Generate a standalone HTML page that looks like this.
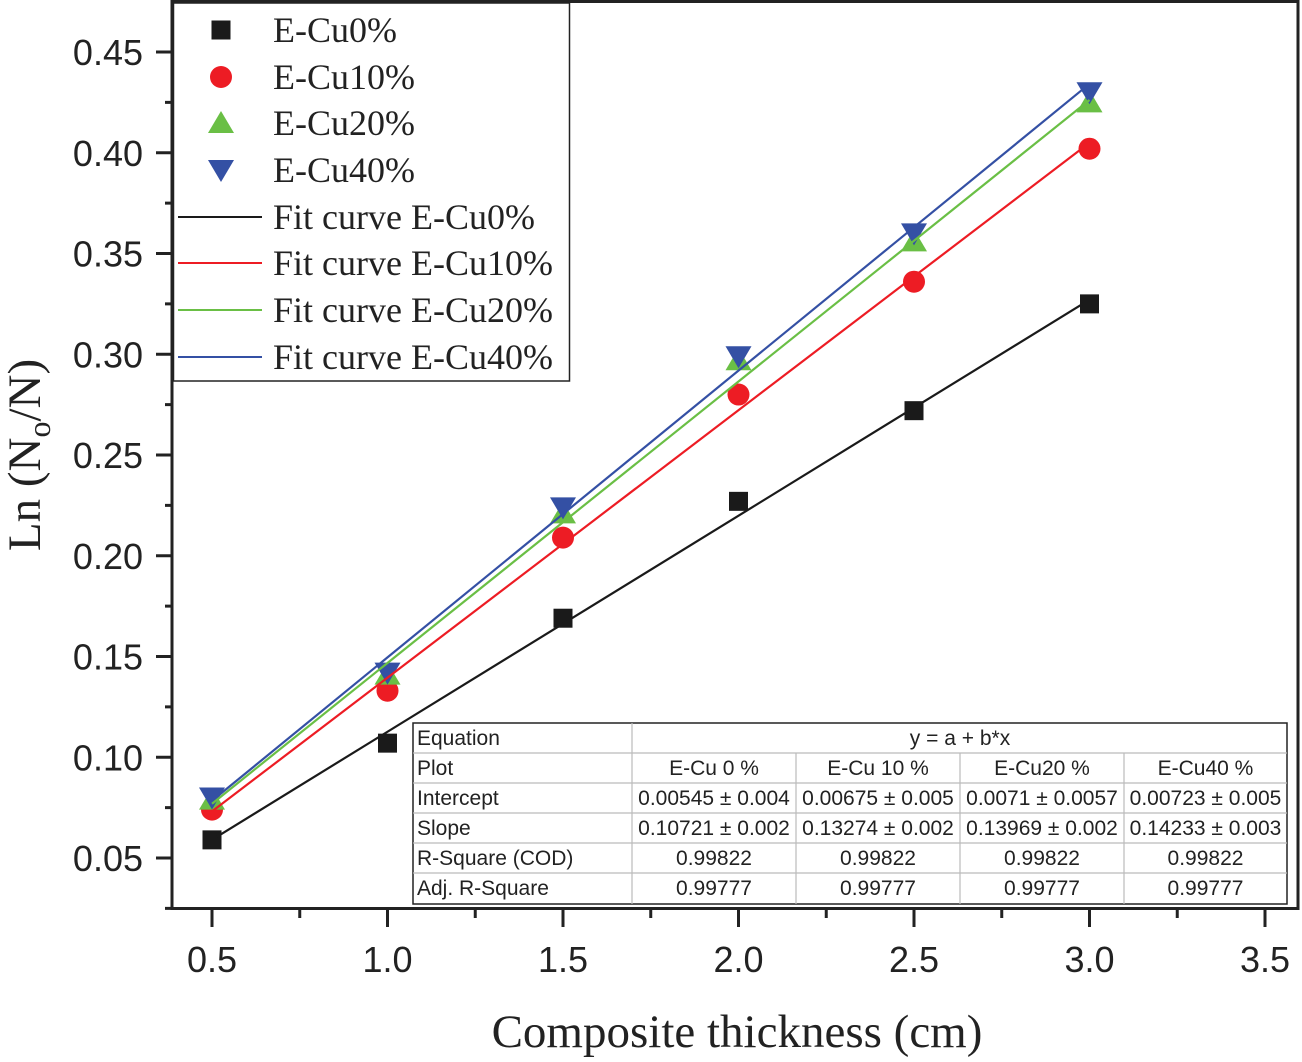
<!DOCTYPE html>
<html><head><meta charset="utf-8"><style>
html,body{margin:0;padding:0;background:#fff;}
svg{display:block;}
.sans{font-family:"Liberation Sans",sans-serif;}
.serif{font-family:"Liberation Serif",serif;}
</style></head><body>
<svg id="chart" width="1302" height="1062" viewBox="0 0 1302 1062" xmlns="http://www.w3.org/2000/svg">
<g id="axes"></g>
<g id="series"></g>
<g id="legend"></g>
<g id="table"></g>
</svg>
<script>
const xVals = [0.5, 1.0, 1.5, 2.0, 2.5, 3.0];
const cu0 = [0.059, 0.107, 0.169, 0.227, 0.272, 0.325];
const cu10 = [0.074, 0.133, 0.209, 0.280, 0.336, 0.402];
const cu20 = [0.079, 0.141, 0.221, 0.297, 0.356, 0.425];
const cu40 = [0.080, 0.142, 0.224, 0.299, 0.360, 0.430];
const intercepts = [0.00545, 0.00675, 0.0071, 0.00723];
const slopes = [0.10721, 0.13274, 0.13969, 0.14233];
const xTicks = [0.5, 1.0, 1.5, 2.0, 2.5, 3.0, 3.5];
const yTicks = [0.05, 0.10, 0.15, 0.20, 0.25, 0.30, 0.35, 0.40, 0.45];
const seriesNames = ["E-Cu0%", "E-Cu10%", "E-Cu20%", "E-Cu40%"];
const tablePlots = ["E-Cu 0 %", "E-Cu 10 %", "E-Cu20 %", "E-Cu40 %"];
const tableIntercept = ["0.00545 ± 0.004", "0.00675 ± 0.005", "0.0071 ± 0.0057", "0.00723 ± 0.005"];
const tableSlope = ["0.10721 ± 0.002", "0.13274 ± 0.002", "0.13969 ± 0.002", "0.14233 ± 0.003"];
const tableR2 = ["0.99822", "0.99822", "0.99822", "0.99822"];
const tableAdjR2 = ["0.99777", "0.99777", "0.99777", "0.99777"];

const NS = "http://www.w3.org/2000/svg";
const X = v => 212 + (v - 0.5) * 351;
const Y = v => 52 + (0.45 - v) * 2015;
function mk(tag, attrs, parent, text) {
  const e = document.createElementNS(NS, tag);
  for (const k in attrs) e.setAttribute(k, attrs[k]);
  if (text !== undefined) e.textContent = text;
  parent.appendChild(e);
  return e;
}
const axes = document.getElementById('axes');
let fr = mk('rect', {x:172, y:1.5, width:1126, height:907, fill:'none', stroke:'#222', 'stroke-width':3}, axes);


yTicks.forEach((t, i) => {
  const y = Y(t);
  const tk = mk('line', {x1:156, x2:172, y1:y, y2:y, stroke:'#222', 'stroke-width':3}, axes);
  
  
  const ym = Y(t + 0.025);
  if (ym > 4) {
    const mt = mk('line', {x1:165, x2:172, y1:ym, y2:ym, stroke:'#222', 'stroke-width':3}, axes);
    
    
  }
  const lb = mk('text', {x:143, y:y + 13, 'text-anchor':'end', 'font-size':36, fill:'#222', class:'sans'}, axes, t.toFixed(2));
  
  
});
const mt0 = mk('line', {x1:165, x2:172, y1:Y(0.025), y2:Y(0.025), stroke:'#222', 'stroke-width':3}, axes);


xTicks.forEach(t => {
  const x = X(t);
  const tk = mk('line', {x1:x, x2:x, y1:909, y2:927, stroke:'#222', 'stroke-width':3}, axes);
  
  
  const xm = X(t + 0.25);
  if (xm < 1296) {
    const mt = mk('line', {x1:xm, x2:xm, y1:909, y2:918, stroke:'#222', 'stroke-width':3}, axes);
    
    
  }
  const lb = mk('text', {x:x, y:972, 'text-anchor':'middle', 'font-size':36, fill:'#222', class:'sans'}, axes, t.toFixed(1));
  
  
});
const xt = mk('text', {x:737, y:1047, 'text-anchor':'middle', 'font-size':47, fill:'#222', class:'serif'}, axes, 'Composite thickness (cm)');


const yt = mk('text', {transform:'translate(40,455) rotate(-90)', 'text-anchor':'middle', 'font-size':47, fill:'#222', class:'serif'}, axes);


yt.innerHTML = 'Ln (N<tspan dy="10" font-size="32">o</tspan><tspan dy="-10">/N)</tspan>';

const colors = ['#1a1a1a', '#ed1c24', '#6abf45', '#3450a4'];
const datas = [cu0, cu10, cu20, cu40];
const shapes = ['square', 'circle', 'up', 'down'];
function marker(shape, x, y, c, parent) {
  if (shape === 'square') return mk('rect', {x:x-9.5, y:y-9.5, width:19, height:19, fill:c}, parent);
  if (shape === 'circle') return mk('circle', {cx:x, cy:y, r:11, fill:c}, parent);
  if (shape === 'up') return mk('polygon', {points:`${x-13},${y+10} ${x+13},${y+10} ${x},${y-12}`, fill:c}, parent);
  return mk('polygon', {points:`${x-13},${y-10} ${x+13},${y-10} ${x},${y+12}`, fill:c}, parent);
}
const sg = document.getElementById('series');
datas.forEach((d, i) => {
  d.forEach((v, j) => {
    const m = marker(shapes[i], X(xVals[j]), Y(v), colors[i], sg);
    
    
  });
});
datas.forEach((d, i) => {
  const x0 = xVals[0], x1 = xVals[xVals.length - 1];
  const ln = mk('line', {x1:X(x0), y1:Y(intercepts[i] + slopes[i]*x0), x2:X(x1), y2:Y(intercepts[i] + slopes[i]*x1), stroke:colors[i], 'stroke-width':2.2}, sg);
  
  
});

const lg = document.getElementById('legend');
const lbox = mk('rect', {x:173.5, y:3, width:396, height:378, fill:'#fff', stroke:'#222', 'stroke-width':1.5}, lg);


const rowsY = [30, 77, 123, 170, 217, 263, 310, 357];
seriesNames.forEach((n, i) => {
  const m = marker(shapes[i], 221, rowsY[i], colors[i], lg);
  
  
  const t = mk('text', {x:273, y:rowsY[i] + 12, 'font-size':36, fill:'#222', class:'serif'}, lg, n);
  
  
  const l = mk('line', {x1:178, x2:262, y1:rowsY[i+4], y2:rowsY[i+4], stroke:colors[i], 'stroke-width':2}, lg);
  
  
  const t2 = mk('text', {x:273, y:rowsY[i+4] + 12, 'font-size':36, fill:'#222', class:'serif'}, lg, 'Fit curve ' + n);
  
  
});

const tg = document.getElementById('table');
const tb = mk('rect', {x:413, y:723, width:874, height:181, fill:'#fff', stroke:'#222', 'stroke-width':1.5}, tg);


const rowTop = [723, 753, 783, 813, 843, 873, 904];
for (let r = 1; r < 6; r++) mk('line', {x1:413, x2:1287, y1:rowTop[r], y2:rowTop[r], stroke:'#bbb', 'stroke-width':1.2}, tg);
const colX = [413, 632, 796, 960, 1124, 1287];
mk('line', {x1:632, x2:632, y1:723, y2:904, stroke:'#bbb', 'stroke-width':1.2}, tg);
for (let c = 2; c < 5; c++) mk('line', {x1:colX[c], x2:colX[c], y1:753, y2:904, stroke:'#bbb', 'stroke-width':1.2}, tg);
const heads = ['Equation', 'Plot', 'Intercept', 'Slope', 'R-Square (COD)', 'Adj. R-Square'];
heads.forEach((h, r) => {
  const t = mk('text', {x:417, y:rowTop[r] + 22, 'font-size':21, fill:'#222', class:'sans'}, tg, h);
  
  
});
const eq = mk('text', {x:960, y:745, 'text-anchor':'middle', 'font-size':21, fill:'#222', class:'sans'}, tg, 'y = a + b*x');


[tablePlots, tableIntercept, tableSlope, tableR2, tableAdjR2].forEach((row, r) => {
  row.forEach((v, c) => {
    const t = mk('text', {x:(colX[c+1] + colX[c+2]) / 2, y:rowTop[r+1] + 22, 'text-anchor':'middle', 'font-size':21, fill:'#222', class:'sans'}, tg, v);
    
    
  });
});
</script>
</body></html>
